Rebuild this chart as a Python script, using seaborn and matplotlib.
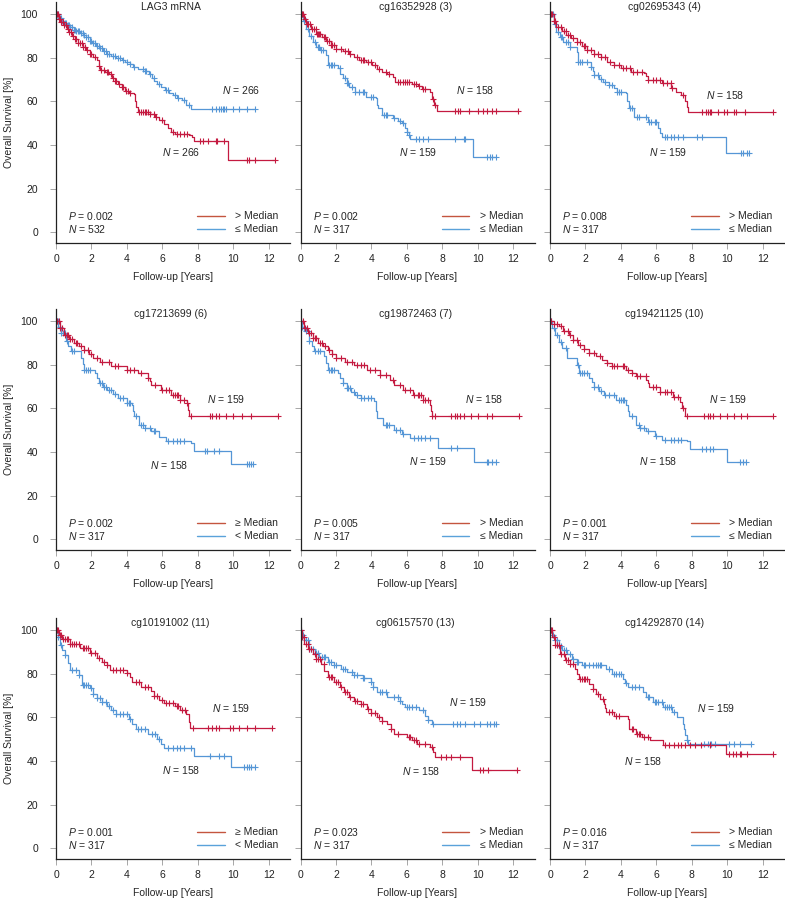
import numpy as np
import pandas as pd
import matplotlib
matplotlib.use("Agg")
import matplotlib.pyplot as plt
import seaborn as sns

# ---------------- data ----------------
titles = ["LAG3 mRNA", "cg16352928 (3)", "cg02695343 (4)",
          "cg17213699 (6)", "cg19872463 (7)", "cg19421125 (10)",
          "cg10191002 (11)", "cg06157570 (13)", "cg14292870 (14)"]
p_values = ["0.002", "0.002", "0.008", "0.002", "0.005", "0.001", "0.001", "0.023", "0.016"]
n_total = [532, 317, 317, 317, 317, 317, 317, 317, 317]
n_red = [266, 158, 158, 159, 158, 159, 159, 158, 158]
n_blue = [266, 159, 159, 158, 159, 158, 158, 159, 159]
red_labels = ["> Median", "> Median", "> Median", "≥ Median", "> Median", "> Median",
              "≥ Median", "> Median", "> Median"]
blue_labels = ["≤ Median", "≤ Median", "≤ Median", "< Median", "≤ Median", "≤ Median",
               "< Median", "≤ Median", "≤ Median"]

# Panel 1
p1_red_t = [0, 0.15, 0.3, 0.45, 0.6, 0.75, 0.9, 1.05, 1.25, 1.5, 1.7, 1.9, 2.1, 2.3, 2.4, 2.5, 2.75, 3.0, 3.15, 3.3, 3.5, 3.7, 3.9, 4.1, 4.4, 4.45, 4.5, 4.6, 5.3, 5.6, 5.8, 6.1, 6.3, 6.5, 6.7, 7.5, 7.65, 7.8, 9.7]
p1_red_s = [100, 98, 96.5, 95, 93.5, 92, 90, 88.8, 87, 85, 83.5, 82, 80.5, 78.9, 76.5, 74.3, 73.5, 72.5, 71, 69.5, 68, 66.5, 65, 64, 63.5, 60, 57.4, 55, 54.4, 53, 51.5, 49.8, 48, 46, 45.2, 44.5, 43.5, 42, 33.2]
p1_red_end = 12.35
p1_red_cens = [0.05, 0.1, 0.15, 0.22, 0.3, 0.38, 0.45, 0.55, 0.65, 0.75, 0.85, 0.95, 1.05, 1.15, 1.25, 1.35, 1.45, 1.55, 1.65, 1.75, 1.9, 2.0, 2.2, 2.4, 2.55, 2.7, 2.85, 2.95, 3.1, 3.2, 3.3, 3.4, 3.55, 3.7, 3.8, 3.95, 4.05, 4.15, 4.7, 4.8, 4.9, 5.0, 5.1, 5.2, 5.3, 5.5, 5.65, 6.0, 6.6, 6.8, 7.0, 7.2, 7.4, 8.1, 8.3, 8.6, 9.0, 9.1, 9.5, 10.8, 10.9, 11.2, 12.35]
p1_blue_t = [0, 0.15, 0.3, 0.45, 0.6, 0.8, 1.0, 1.15, 1.35, 1.55, 1.7, 1.9, 2.05, 2.25, 2.45, 2.65, 2.85, 3.1, 3.4, 3.7, 3.9, 4.15, 4.35, 4.6, 5.0, 5.25, 5.4, 5.55, 5.7, 5.9, 6.15, 6.4, 6.6, 6.85, 7.1, 7.35, 7.6]
p1_blue_s = [100, 98.5, 97, 96, 95, 94, 93, 92.5, 91.5, 90.5, 89.5, 88, 87, 85.5, 84.5, 83, 82, 81, 80, 79, 78, 77, 75.8, 75, 74, 72.5, 71, 69.5, 68, 66.6, 65.5, 64, 62.8, 61.5, 60.5, 58.5, 56.5]
p1_blue_end = 11.2
p1_blue_cens = [0.05, 0.12, 0.2, 0.28, 0.35, 0.42, 0.5, 0.58, 0.65, 0.72, 0.8, 0.9, 1.0, 1.08, 1.15, 1.22, 1.3, 1.4, 1.5, 1.6, 1.7, 1.8, 1.9, 2.0, 2.1, 2.2, 2.3, 2.4, 2.5, 2.6, 2.7, 2.8, 2.9, 3.0, 3.2, 3.3, 3.5, 3.6, 3.8, 4.0, 4.2, 4.4, 4.9, 5.0, 5.1, 5.3, 5.5, 5.8, 6.2, 6.3, 6.7, 6.9, 7.2, 7.5, 8.8, 9.0, 9.2, 9.3, 9.4, 9.5, 9.6, 10.0, 10.3, 10.8, 11.2]

# Panel 2
p2_red_t = [0, 0.2, 0.33, 0.6, 0.9, 1.2, 1.45, 1.7, 2.0, 2.4, 2.75, 3.0, 3.3, 3.7, 4.05, 4.3, 4.6, 4.9, 5.2, 5.35, 6.3, 6.6, 6.85, 7.3, 7.4, 7.55, 7.7]
p2_red_s = [100, 98, 95.6, 93.5, 91, 89.5, 88, 86, 84.3, 83, 82, 80.5, 79, 78, 76.6, 75, 73.6, 72.5, 71.3, 69, 68.2, 67, 65.9, 64.4, 61.3, 58.3, 55.8]
p2_red_end = 12.25
p2_red_cens = [0.05, 0.1, 0.15, 0.25, 0.35, 0.45, 0.55, 0.65, 0.75, 0.85, 0.95, 1.0, 1.05, 1.1, 1.3, 1.4, 1.5, 1.6, 1.7, 1.8, 1.9, 2.0, 2.3, 2.5, 2.7, 2.8, 3.2, 3.4, 3.5, 3.6, 3.8, 4.0, 4.2, 4.4, 4.8, 5.0, 5.5, 5.6, 5.8, 5.9, 6.0, 6.1, 6.4, 6.5, 6.7, 6.9, 7.0, 7.5, 7.6, 8.7, 8.9, 9.0, 9.5, 10.0, 10.3, 10.5, 10.8, 11.0, 12.25]
p2_blue_t = [0, 0.15, 0.33, 0.5, 0.7, 0.9, 1.1, 1.45, 1.55, 2.1, 2.25, 2.4, 2.6, 2.75, 3.1, 3.7, 4.25, 4.3, 4.35, 4.6, 5.2, 5.5, 5.7, 5.9, 6.0, 6.1, 6.2, 9.75]
p2_blue_s = [100, 97, 93.5, 90, 87.4, 85, 83.6, 81.3, 76.7, 75.2, 72.5, 70.6, 68.5, 66.8, 64.5, 62.2, 61.4, 58.5, 56.8, 53.8, 52.2, 51, 50, 48, 46, 44.5, 42.8, 34.3]
p2_blue_end = 11.05
p2_blue_cens = [0.05, 0.1, 0.2, 0.3, 0.45, 0.6, 0.8, 1.0, 1.05, 1.15, 1.25, 1.6, 1.7, 1.8, 1.9, 2.2, 2.5, 2.6, 2.7, 2.9, 3.1, 3.3, 3.5, 3.6, 4.0, 4.1, 4.7, 4.8, 4.9, 5.3, 5.6, 5.8, 6.0, 6.1, 6.5, 6.7, 6.9, 7.2, 8.7, 9.2, 9.3, 10.5, 10.7, 10.8, 11.05]

# Panel 3
p3_red_t = [0, 0.2, 0.36, 0.65, 0.93, 1.2, 1.5, 1.8, 2.1, 2.5, 2.85, 3.2, 3.6, 4.0, 4.55, 5.3, 5.4, 5.5, 6.3, 6.85, 7.1, 7.4, 7.6, 7.7, 7.8]
p3_red_s = [100, 97, 94.4, 92.5, 90.5, 89, 87.5, 85.5, 83.7, 82, 80.6, 78.3, 76.8, 75.3, 73.7, 73, 71.5, 70, 68.4, 66.1, 64.5, 63, 60, 57.5, 55]
p3_red_end = 12.58
p3_red_cens = [0.05, 0.1, 0.2, 0.3, 0.45, 0.6, 0.8, 0.9, 1.0, 1.1, 1.3, 1.5, 1.7, 1.9, 2.0, 2.1, 2.3, 2.5, 2.7, 2.9, 3.1, 3.4, 3.6, 3.9, 4.1, 4.3, 4.5, 4.7, 4.9, 5.2, 5.5, 5.8, 6.0, 6.2, 6.4, 6.6, 6.8, 6.9, 7.5, 8.6, 8.8, 8.9, 9.0, 9.1, 9.5, 9.8, 10.0, 10.4, 10.5, 11.0, 12.58]
p3_blue_t = [0, 0.2, 0.36, 0.55, 0.74, 1.1, 1.5, 1.6, 2.3, 2.4, 2.5, 2.75, 3.0, 3.3, 3.6, 3.8, 4.27, 4.35, 4.47, 4.75, 5.5, 6.1, 6.2, 6.3, 9.95]
p3_blue_s = [100, 95.5, 92, 89.5, 87.5, 85.2, 82.9, 78.3, 76, 74, 72.1, 70.5, 69, 67.5, 66.1, 64.3, 63.8, 60, 56.9, 53, 50.7, 47.6, 45.5, 43.8, 36.2]
p3_blue_end = 11.25
p3_blue_cens = [0.05, 0.15, 0.3, 0.45, 0.6, 0.7, 0.9, 1.0, 1.1, 1.6, 1.7, 1.8, 2.1, 2.3, 2.5, 2.7, 2.9, 3.1, 3.3, 3.5, 3.8, 3.9, 4.0, 4.5, 4.6, 4.9, 5.0, 5.4, 5.6, 5.7, 5.9, 6.0, 6.5, 6.6, 6.8, 7.0, 7.2, 7.5, 8.3, 8.6, 10.8, 10.9, 11.1, 11.25]

# Panel 4
p4_red_t = [0, 0.2, 0.47, 0.75, 1.03, 1.3, 1.6, 1.85, 2.07, 2.5, 3.1, 4.0, 4.6, 5.2, 5.3, 5.35, 5.9, 6.5, 7.0, 7.4, 7.45, 7.5]
p4_red_s = [100, 97, 93.9, 92, 90, 88.5, 87, 85, 83.2, 81.5, 79.3, 77.8, 76.3, 74, 72.5, 71, 68.6, 66.3, 64, 62.5, 59.5, 56.7]
p4_red_end = 12.5
p4_red_cens = [0.05, 0.15, 0.25, 0.35, 0.5, 0.6, 0.7, 0.8, 0.9, 1.1, 1.2, 1.4, 1.6, 1.8, 2.0, 2.3, 2.6, 3.0, 3.3, 3.5, 4.0, 4.2, 4.4, 4.8, 5.2, 5.6, 6.0, 6.2, 6.4, 6.6, 6.7, 6.8, 6.9, 7.0, 7.2, 7.4, 7.6, 8.7, 8.8, 9.0, 9.2, 9.6, 10.0, 10.5, 11.0, 12.5]
p4_blue_t = [0, 0.12, 0.28, 0.56, 0.7, 0.85, 1.4, 1.5, 1.6, 2.2, 2.3, 2.4, 2.65, 2.9, 3.2, 3.5, 4.0, 4.3, 4.35, 4.4, 4.7, 5.0, 5.35, 5.8, 6.2, 7.6, 7.8, 9.86]
p4_blue_s = [100, 97.5, 94.6, 90.8, 88.5, 86.2, 83.2, 80.5, 77.8, 76.3, 74, 71.6, 70, 68.6, 66.5, 64.8, 62.5, 61.7, 59, 56.4, 52.5, 51, 49.5, 47, 44.9, 44.1, 40.6, 34.6]
p4_blue_end = 11.1
p4_blue_cens = [0.05, 0.1, 0.2, 0.3, 0.4, 0.5, 0.6, 0.9, 1.0, 1.6, 1.7, 1.8, 1.9, 2.5, 2.6, 2.7, 2.8, 3.0, 3.1, 3.3, 3.6, 3.8, 4.0, 4.1, 4.2, 4.5, 4.8, 4.9, 5.0, 5.3, 5.5, 5.6, 6.3, 6.6, 6.8, 7.0, 7.2, 8.4, 8.5, 8.9, 9.2, 10.8, 10.9, 11.0, 11.1]

# Panel 5
p5_red_t = [0, 0.2, 0.41, 0.7, 0.97, 1.25, 1.53, 1.8, 2.0, 2.5, 3.0, 3.75, 4.5, 5.05, 5.25, 5.8, 6.37, 6.9, 7.3, 7.35, 7.4]
p5_red_s = [100, 97, 94.6, 92.3, 90, 88.5, 87, 85, 83.2, 81.5, 80, 77.8, 75.5, 73.2, 71, 68.6, 66.3, 64, 61.7, 59, 56.4]
p5_red_end = 12.3
p5_red_cens = [0.05, 0.15, 0.25, 0.35, 0.5, 0.6, 0.7, 0.8, 0.9, 1.1, 1.2, 1.4, 1.6, 1.8, 2.0, 2.3, 2.6, 2.9, 3.2, 3.4, 3.6, 3.9, 4.2, 4.5, 4.8, 5.2, 5.6, 5.9, 6.2, 6.4, 6.6, 6.7, 6.8, 6.9, 7.0, 7.2, 7.4, 7.6, 8.5, 8.7, 8.8, 9.0, 9.2, 9.6, 10.0, 10.5, 10.8, 12.3]
p5_blue_t = [0, 0.1, 0.22, 0.5, 0.65, 0.78, 1.34, 1.45, 1.53, 2.1, 2.25, 2.4, 2.6, 2.85, 3.1, 3.4, 4.17, 4.25, 4.3, 4.65, 5.3, 5.7, 6.15, 7.75, 9.8]
p5_blue_s = [100, 97.5, 95.4, 90.8, 88.5, 86.2, 83.9, 81, 77.8, 76.3, 74, 71.6, 69.5, 67.8, 66.3, 64.8, 63.3, 59, 55.6, 52.5, 50.2, 48.5, 46.4, 41.8, 35.4]
p5_blue_end = 11.0
p5_blue_cens = [0.05, 0.1, 0.2, 0.3, 0.4, 0.5, 0.8, 1.0, 1.1, 1.6, 1.7, 1.8, 1.9, 2.4, 2.6, 2.7, 2.8, 3.0, 3.2, 3.4, 3.6, 3.8, 4.0, 4.8, 4.9, 5.0, 5.4, 5.6, 5.8, 6.4, 6.6, 6.8, 7.0, 7.3, 8.5, 8.8, 10.5, 10.6, 10.8, 11.0]

# Panel 6
p6_red_t = [0, 0.2, 0.48, 0.75, 1.05, 1.3, 1.6, 1.9, 2.2, 2.6, 2.95, 3.2, 3.5, 4.3, 4.6, 4.86, 5.43, 5.5, 5.6, 6.2, 6.95, 7.33, 7.45, 7.6]
p6_red_s = [100, 99, 97.7, 95.8, 93.9, 91.5, 89.3, 87.5, 85.5, 84, 82.4, 81, 79.3, 77.8, 76.3, 74.7, 73.2, 71.5, 70.1, 67.8, 65.5, 63.2, 60, 56.7]
p6_red_end = 12.57
p6_red_cens = [0.05, 0.2, 0.4, 0.6, 0.8, 1.0, 1.1, 1.3, 1.5, 1.7, 1.9, 2.2, 2.5, 2.8, 3.2, 3.5, 3.6, 3.8, 4.1, 4.2, 4.4, 4.6, 4.9, 5.1, 5.4, 5.8, 6.0, 6.2, 6.5, 6.6, 6.8, 7.0, 7.2, 7.5, 7.7, 8.7, 8.9, 9.0, 9.2, 9.6, 10.0, 10.4, 10.8, 11.1, 12.57]
p6_blue_t = [0, 0.12, 0.29, 0.5, 0.67, 0.95, 1.52, 1.62, 2.2, 2.35, 2.48, 2.75, 3.05, 3.7, 4.3, 4.4, 4.48, 4.86, 5.1, 5.43, 5.9, 6.3, 7.7, 7.9, 10.0]
p6_blue_s = [100, 97, 93.9, 90.5, 87.7, 83.2, 80, 76.3, 74, 72, 70.1, 68, 66.3, 64, 61.7, 59, 56.4, 52.5, 51, 49.5, 47.5, 45.6, 44.9, 41.3, 35.4]
p6_blue_end = 11.05
p6_blue_cens = [0.05, 0.2, 0.4, 0.6, 0.9, 1.6, 1.7, 1.8, 1.9, 2.1, 2.5, 2.7, 2.9, 3.1, 3.3, 3.6, 3.9, 4.0, 4.1, 4.2, 4.6, 5.0, 5.1, 5.3, 5.5, 6.0, 6.5, 6.8, 7.0, 7.2, 7.4, 8.6, 8.8, 9.0, 9.2, 10.7, 10.9, 11.05]

# Panel 7
p7_red_t = [0, 0.15, 0.32, 0.8, 1.37, 1.94, 2.3, 2.6, 2.9, 3.07, 4.0, 4.15, 4.3, 4.8, 5.35, 5.5, 5.8, 6.1, 6.7, 7.0, 7.35, 7.5, 7.55]
p7_red_s = [100, 98, 96.2, 93.9, 91.7, 89.4, 87.1, 85.5, 84.1, 81.8, 80.3, 78.5, 76.5, 74.2, 72, 69.7, 68.2, 66.7, 65.2, 63.5, 61.4, 58, 55.3]
p7_red_end = 12.2
p7_red_cens = [0.05, 0.1, 0.2, 0.3, 0.4, 0.5, 0.6, 0.7, 0.8, 0.9, 1.0, 1.1, 1.3, 1.5, 1.6, 1.7, 1.8, 2.0, 2.2, 2.4, 2.7, 2.9, 3.2, 3.4, 3.6, 3.8, 4.0, 4.5, 4.7, 5.0, 5.2, 5.5, 5.7, 6.0, 6.2, 6.4, 6.6, 6.8, 6.9, 7.1, 7.3, 7.7, 8.6, 8.8, 9.0, 9.2, 9.8, 10.0, 10.3, 10.8, 11.2, 12.2]
p7_blue_t = [0, 0.1, 0.23, 0.35, 0.5, 0.65, 0.8, 1.27, 1.46, 1.94, 2.1, 2.3, 2.6, 2.9, 3.1, 3.36, 4.1, 4.3, 4.5, 5.2, 5.7, 5.9, 6.1, 7.8, 9.87]
p7_blue_s = [100, 97, 93.2, 91, 88.6, 85, 81.8, 79.5, 75, 73.5, 71, 68.9, 67, 65.2, 63.5, 61.4, 59.1, 57, 54.5, 52.3, 50, 48, 46.2, 42.4, 37.1]
p7_blue_end = 11.2
p7_blue_cens = [0.05, 0.1, 0.3, 0.5, 0.9, 1.1, 1.3, 1.5, 1.6, 1.7, 1.8, 2.0, 2.1, 2.3, 2.5, 2.6, 2.8, 3.0, 3.2, 3.4, 3.6, 3.8, 4.0, 4.2, 4.6, 4.8, 5.0, 5.4, 5.6, 5.8, 6.3, 6.6, 6.8, 7.0, 7.2, 7.6, 8.7, 9.2, 9.5, 10.6, 10.8, 10.9, 11.0, 11.2]

# Panel 8
p8_red_t = [0, 0.1, 0.22, 0.45, 0.69, 0.9, 1.15, 1.35, 1.53, 1.9, 2.2, 2.46, 2.75, 3.0, 3.4, 3.76, 4.0, 4.3, 4.6, 4.87, 5.1, 5.25, 6.0, 6.3, 6.55, 7.3, 7.45, 7.6, 9.7]
p8_red_s = [100, 97, 93.9, 91.5, 89.3, 87, 84.7, 81.5, 78.6, 76.3, 74, 71.6, 69.5, 67.8, 66, 64, 62, 60.2, 58.5, 57.1, 54.5, 52.5, 51, 49.5, 47.9, 46.4, 44, 41.8, 36.1]
p8_red_end = 12.2
p8_red_cens = [0.05, 0.1, 0.2, 0.3, 0.4, 0.5, 0.6, 0.8, 0.9, 1.0, 1.1, 1.3, 1.6, 1.7, 1.8, 2.0, 2.1, 2.3, 2.5, 2.6, 2.8, 3.1, 3.2, 3.4, 3.5, 3.8, 4.0, 4.2, 4.4, 4.6, 5.1, 5.5, 6.1, 6.2, 6.4, 6.5, 6.7, 7.0, 7.4, 7.9, 8.2, 8.5, 9.0, 10.1, 10.3, 10.6, 12.2]
p8_blue_t = [0, 0.1, 0.22, 0.5, 0.8, 1.06, 1.53, 1.9, 2.27, 2.6, 3.0, 3.5, 3.95, 4.1, 4.3, 4.9, 5.6, 5.75, 5.9, 6.7, 7.0, 7.2, 7.4]
p8_blue_s = [100, 98, 95.4, 91.6, 89.5, 87.7, 85.5, 84, 82.4, 81, 79.3, 78, 76.3, 74, 71.6, 69.4, 67.8, 66.3, 64.8, 63.3, 60.9, 59, 57.1]
p8_blue_end = 11.0
p8_blue_cens = [0.05, 0.15, 0.3, 0.4, 0.5, 0.6, 0.7, 0.9, 1.0, 1.2, 1.3, 1.4, 1.6, 1.7, 1.9, 2.0, 2.4, 2.5, 2.9, 3.0, 3.2, 3.5, 3.6, 4.0, 4.1, 4.5, 4.6, 4.8, 5.3, 5.5, 5.6, 6.0, 6.1, 6.3, 6.5, 6.9, 7.2, 7.5, 8.6, 8.8, 9.0, 9.3, 9.8, 10.1, 10.5, 10.7, 10.9, 11.0]

# Panel 9
p9_red_t = [0, 0.12, 0.29, 0.57, 0.86, 1.1, 1.43, 1.55, 1.62, 2.2, 2.4, 2.57, 2.8, 3.05, 3.1, 3.14, 3.62, 4.38, 4.43, 4.48, 4.86, 5.2, 5.62, 6.38, 9.9]
p9_red_s = [100, 97, 93.1, 89.3, 86.2, 84.5, 82.4, 80, 77.8, 75.5, 73, 70.9, 68.5, 66.3, 64.5, 62.5, 60.9, 59.4, 57, 54.8, 52.5, 51, 49.5, 47.2, 43.3]
p9_red_end = 12.57
p9_red_cens = [0.05, 0.1, 0.2, 0.3, 0.4, 0.5, 0.6, 0.8, 0.9, 1.0, 1.1, 1.3, 1.7, 1.8, 1.9, 2.0, 2.1, 2.4, 2.7, 3.0, 3.3, 3.5, 3.7, 3.9, 4.6, 4.7, 4.9, 5.0, 5.1, 5.3, 5.5, 6.5, 6.7, 7.0, 7.2, 7.4, 7.6, 7.9, 8.2, 8.5, 9.0, 10.1, 10.3, 10.5, 10.7, 10.8, 11.1, 12.57]
p9_blue_t = [0, 0.12, 0.29, 0.5, 0.67, 0.95, 1.24, 1.5, 1.8, 3.14, 3.5, 4.1, 4.25, 4.4, 5.24, 5.43, 5.8, 6.4, 6.86, 7.14, 7.52, 7.57, 7.62, 7.7, 7.8]
p9_blue_s = [100, 98, 95.4, 93, 90.8, 89, 87, 85.5, 83.9, 82.4, 80, 77.8, 76, 73.9, 71.6, 69.4, 67, 64.8, 62.5, 60.2, 57.1, 54.5, 51.8, 49.5, 47.9]
p9_blue_end = 11.33
p9_blue_cens = [0.05, 0.15, 0.3, 0.4, 0.5, 0.6, 0.8, 0.9, 1.1, 1.3, 1.5, 1.6, 1.9, 2.0, 2.2, 2.4, 2.6, 2.7, 2.8, 2.9, 3.3, 3.6, 3.7, 3.9, 4.0, 4.3, 4.6, 4.8, 5.0, 5.5, 5.6, 5.9, 6.0, 6.1, 6.3, 6.5, 6.6, 6.7, 6.8, 7.0, 7.7, 8.7, 8.9, 9.0, 9.1, 9.3, 10.1, 10.4, 10.7, 11.33]

red_t = [p1_red_t, p2_red_t, p3_red_t, p4_red_t, p5_red_t, p6_red_t, p7_red_t, p8_red_t, p9_red_t]
red_s = [p1_red_s, p2_red_s, p3_red_s, p4_red_s, p5_red_s, p6_red_s, p7_red_s, p8_red_s, p9_red_s]
red_end = [p1_red_end, p2_red_end, p3_red_end, p4_red_end, p5_red_end, p6_red_end, p7_red_end, p8_red_end, p9_red_end]
red_cens = [p1_red_cens, p2_red_cens, p3_red_cens, p4_red_cens, p5_red_cens, p6_red_cens, p7_red_cens, p8_red_cens, p9_red_cens]
blue_t = [p1_blue_t, p2_blue_t, p3_blue_t, p4_blue_t, p5_blue_t, p6_blue_t, p7_blue_t, p8_blue_t, p9_blue_t]
blue_s = [p1_blue_s, p2_blue_s, p3_blue_s, p4_blue_s, p5_blue_s, p6_blue_s, p7_blue_s, p8_blue_s, p9_blue_s]
blue_end = [p1_blue_end, p2_blue_end, p3_blue_end, p4_blue_end, p5_blue_end, p6_blue_end, p7_blue_end, p8_blue_end, p9_blue_end]
blue_cens = [p1_blue_cens, p2_blue_cens, p3_blue_cens, p4_blue_cens, p5_blue_cens, p6_blue_cens, p7_blue_cens, p8_blue_cens, p9_blue_cens]

# ---------------- layout (label positions in data units) ----------------
red_label_pos = [(6.0, 36.8), (8.8, 65.3), (8.8, 63.0), (8.5, 64.4), (9.3, 64.4),
                 (8.97, 64.4), (8.8, 64.4), (5.7, 35.4), (4.2, 40.0)]
blue_label_pos = [(9.35, 65.3), (5.55, 36.8), (5.6, 36.8), (5.3, 34.0), (6.1, 35.9),
                  (5.0, 35.9), (6.0, 35.9), (8.4, 67.1), (8.3, 64.4)]

RED = "#c41a40"
BLUE = "#5596d6"
RED_LEG = "#c4553f"
BLUE_LEG = "#5aa2da"

sns.set_style("ticks")
plt.rcParams["font.family"] = ["Liberation Sans", "DejaVu Sans"]
plt.rcParams["mathtext.fontset"] = "custom"
plt.rcParams["mathtext.rm"] = "Liberation Sans"
plt.rcParams["mathtext.it"] = "Liberation Sans:italic"

FW, FH = 785, 901
fig = plt.figure(figsize=(FW / 100, FH / 100), dpi=100)
col_left = [56, 300.5, 550]
row_bottom = [243, 550, 859]
AW, AH = 234, 241


def km_frame(t, s, end):
    xs = list(t) + [end]
    ys = list(s) + [s[-1]]
    return pd.DataFrame({"time": xs, "surv": ys})


def cens_frame(t, s, cens):
    t = np.asarray(t, float)
    s = np.asarray(s, float)
    c = np.asarray(cens, float)
    idx = np.searchsorted(t, c, side="right") - 1
    return pd.DataFrame({"time": c, "surv": s[idx]})


for i in range(9):
    r, c = divmod(i, 3)
    ax = fig.add_axes([col_left[c] / FW, 1 - row_bottom[r] / FH, AW / FW, AH / FH])
    for (tt, ss, ee, cc, col) in [(blue_t[i], blue_s[i], blue_end[i], blue_cens[i], BLUE),
                                  (red_t[i], red_s[i], red_end[i], red_cens[i], RED)]:
        sns.lineplot(data=km_frame(tt, ss, ee), x="time", y="surv", ax=ax, color=col,
                     lw=0.9, drawstyle="steps-post", estimator=None, sort=False)
        cf = cens_frame(tt, ss, cc)
        ax.plot(cf["time"], cf["surv"], ls="none", marker="+", ms=5, mew=0.8, color=col)

    ax.set_xlim(0, 13.2)
    ax.set_ylim(-5, 105.7)
    ax.set_xticks(range(0, 13, 2))
    ax.set_yticks(range(0, 101, 20))
    sns.despine(ax=ax)
    for sp in ["left", "bottom"]:
        ax.spines[sp].set_linewidth(0.9)
        ax.spines[sp].set_color("#222222")
    ax.tick_params(axis="x", length=4, width=0.6, pad=4, labelsize=7.5, colors="#222222",
                   color="#999999")
    ax.tick_params(axis="y", length=4, width=0.6, pad=9, labelsize=7.5, colors="#222222",
                   color="#999999")
    ax.set_xlabel("Follow-up [Years]", fontsize=7.5, labelpad=6)
    if c == 0:
        ax.set_ylabel("Overall Survival [%]", fontsize=7.5, labelpad=5)
    else:
        ax.set_ylabel("")
        ax.tick_params(axis="y", labelleft=False)

    ax.text(0.49, 0.978, titles[i], transform=ax.transAxes, ha="center", va="center",
            fontsize=7.5)
    ax.text(0.053, 0.112, f"$P$ = {p_values[i]}", transform=ax.transAxes, va="center",
            fontsize=7.5)
    ax.text(0.053, 0.057, f"$N$ = {n_total[i]}", transform=ax.transAxes, va="center",
            fontsize=7.5)
    ax.plot([0.604, 0.721], [0.114, 0.114], transform=ax.transAxes, color=RED_LEG, lw=1.0)
    ax.plot([0.604, 0.721], [0.059, 0.059], transform=ax.transAxes, color=BLUE_LEG, lw=1.0)
    ax.text(0.767, 0.112, red_labels[i], transform=ax.transAxes, va="center", fontsize=7.5)
    ax.text(0.767, 0.057, blue_labels[i], transform=ax.transAxes, va="center", fontsize=7.5)

    rx, ry = red_label_pos[i]
    bx, by = blue_label_pos[i]
    ax.text(rx, ry, f"$N$ = {n_red[i]}", va="center", ha="left", fontsize=7.5)
    ax.text(bx, by, f"$N$ = {n_blue[i]}", va="center", ha="left", fontsize=7.5)

fig.savefig("out.png", dpi=100)
